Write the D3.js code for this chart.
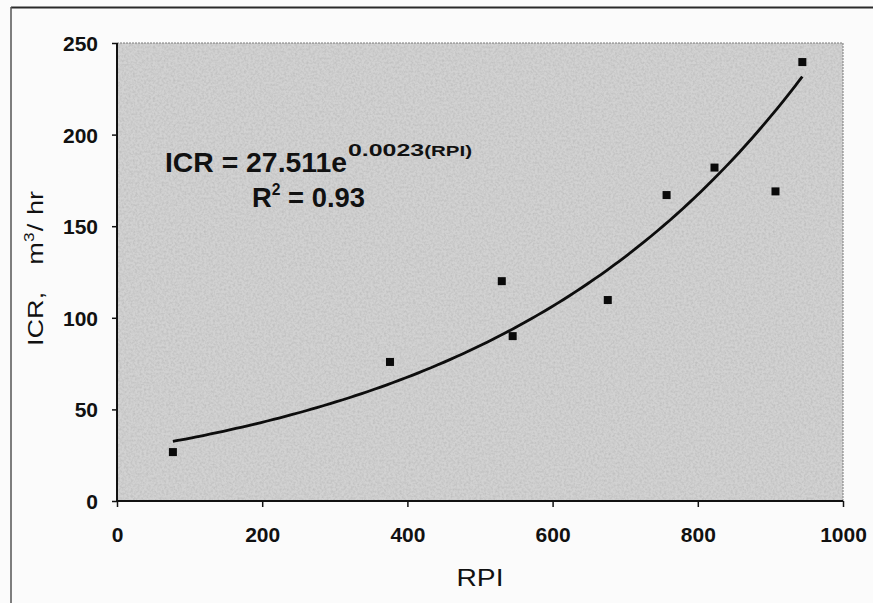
<!DOCTYPE html>
<html>
<head>
<meta charset="utf-8">
<script src="https://cdn.jsdelivr.net/npm/d3@7/dist/d3.min.js"></script>
<style>
  html, body { margin: 0; padding: 0; background: #fbfbfb; }
  svg { display: block; }
  text { font-family: "Liberation Sans", Arial, sans-serif; fill: #111; }
</style>
</head>
<body>
<svg id="chart" width="873" height="603"></svg>
<script>
// ---- data ----
const rpi = [77, 376, 530, 545, 676, 757, 823, 907, 944];
const icr = [26.7, 75.9, 120, 90, 109.7, 167, 182, 169, 239.6];
const xTicks = [0, 200, 400, 600, 800, 1000];
const yTicks = [0, 50, 100, 150, 200, 250];
const xTitle = "RPI";
const equationMain = "ICR = 27.511e";
const equationExp = "0.0023";
const equationExpVar = "(RPI)";
const r2Label = "R";
const r2Value = " = 0.93";

// ---- layout ----
const W = 873, H = 603;
const plot = { left: 117, right: 843, top: 43, bottom: 501 };

const svg = d3.select("#chart");

// texture filter for the scanned grey plot area
const defs = svg.append("defs");
const f = defs.append("filter").attr("id", "grain").attr("x", 0).attr("y", 0).attr("width", 1).attr("height", 1);
f.append("feTurbulence").attr("type", "fractalNoise").attr("baseFrequency", 0.45).attr("numOctaves", 2).attr("seed", 3).attr("result", "n");
f.append("feColorMatrix").attr("in", "n").attr("type", "matrix")
  .attr("values", "0 0 0 0 0.5  0 0 0 0 0.5  0 0 0 0 0.5  0 0 0 -1.6 1.05").attr("result", "dark");
f.append("feComposite").attr("in", "dark").attr("in2", "SourceGraphic").attr("operator", "atop");

// outer frame (extends beyond the visible window on right & bottom)
svg.append("line").attr("x1", 11).attr("x2", W + 5).attr("y1", 7.5).attr("y2", 7.5)
  .attr("stroke", "#2a2a2a").attr("stroke-width", 2.2);
svg.append("line").attr("x1", 11).attr("x2", 11).attr("y1", 7).attr("y2", H + 5)
  .attr("stroke", "#555").attr("stroke-width", 1.5);

const x = d3.scaleLinear().domain([0, 1000]).range([plot.left, plot.right]);
const y = d3.scaleLinear().domain([0, 250]).range([plot.bottom, plot.top]);

// plot background
svg.append("rect")
  .attr("x", plot.left).attr("y", plot.top)
  .attr("width", plot.right - plot.left).attr("height", plot.bottom - plot.top)
  .attr("fill", "#d2d2d2").attr("filter", "url(#grain)");
svg.append("rect")
  .attr("x", plot.left).attr("y", plot.top)
  .attr("width", plot.right - plot.left).attr("height", plot.bottom - plot.top)
  .attr("fill", "none")
  .attr("stroke", "#7a7a7a").attr("stroke-width", 1).attr("stroke-dasharray", "2,1");

// axes
const xAxis = d3.axisBottom(x).tickValues(xTicks).tickSize(6).tickPadding(20).tickFormat(d3.format("d"));
const yAxis = d3.axisLeft(y).tickValues(yTicks).tickSize(5).tickPadding(14).tickFormat(d3.format("d"));

const gx = svg.append("g").attr("transform", `translate(0,${plot.bottom})`).call(xAxis);
const gy = svg.append("g").attr("transform", `translate(${plot.left},0)`).call(yAxis);

[gx, gy].forEach(g => {
  g.attr("font-size", null).attr("font-family", null);
  g.select(".domain").attr("stroke", "#111").attr("stroke-width", 2);
  g.selectAll(".tick line").attr("stroke", "#111").attr("stroke-width", 1.5);
  g.selectAll(".tick text")
    .attr("fill", "#111")
    .style("font-family", '"Liberation Sans", Arial, sans-serif')
    .style("font-size", "21px").style("font-weight", "bold");
});
gy.select(".domain").attr("d", `M0,${plot.bottom}V${plot.top}`);
gx.select(".domain").attr("d", `M${plot.left},0H${plot.right}`);
gy.selectAll(".tick text").attr("dy", "0.36em");

// axis titles
svg.append("text")
  .attr("x", (plot.left + plot.right) / 2).attr("y", 586)
  .attr("text-anchor", "middle")
  .style("font-size", "24px")
  .attr("textLength", 47).attr("lengthAdjust", "spacingAndGlyphs")
  .text(xTitle);

const yt = svg.append("text")
  .attr("transform", "translate(43,346) rotate(-90)")
  .attr("text-anchor", "start")
  .style("font-size", "22px")
  .attr("textLength", 155).attr("lengthAdjust", "spacingAndGlyphs");
yt.append("tspan").text("ICR,");
yt.append("tspan").attr("dx", 22).text("m");
yt.append("tspan").attr("dy", -9).style("font-size", "14px").text("3");
yt.append("tspan").attr("dy", 9).attr("dx", 1).text("/");
yt.append("tspan").attr("dx", 7).text("hr");

// exponential trendline: least squares fit of ln(icr) vs rpi
const pts = rpi.map((r, i) => ({ r, v: icr[i] }));
const mx = d3.mean(pts, d => d.r);
const my = d3.mean(pts, d => Math.log(d.v));
const b = d3.sum(pts, d => (d.r - mx) * (Math.log(d.v) - my)) / d3.sum(pts, d => (d.r - mx) ** 2);
const a = Math.exp(my - b * mx);
const [rMin, rMax] = d3.extent(rpi);
const curve = d3.range(0, 101).map(i => rMin + (rMax - rMin) * i / 100).map(r => ({ r, v: a * Math.exp(b * r) }));

svg.append("path")
  .datum(curve)
  .attr("fill", "none").attr("stroke", "#0d0d0d").attr("stroke-width", 2.8)
  .attr("d", d3.line().x(d => x(d.r)).y(d => y(d.v)).curve(d3.curveBasis));

// markers
const ms = 8;
svg.append("g").selectAll("rect").data(pts).join("rect")
  .attr("x", d => x(d.r) - ms / 2).attr("y", d => y(d.v) - ms / 2)
  .attr("width", ms).attr("height", ms).attr("fill", "#0a0a0a");

// equation annotation
svg.append("text")
  .attr("x", 165).attr("y", 172)
  .style("font-size", "28px").style("font-weight", "bold")
  .attr("textLength", 182).attr("lengthAdjust", "spacingAndGlyphs")
  .text(equationMain);
const ex = svg.append("text")
  .attr("x", 348).attr("y", 156)
  .style("font-weight", "bold")
  .attr("textLength", 124).attr("lengthAdjust", "spacingAndGlyphs");
ex.append("tspan").style("font-size", "17px").text(equationExp);
ex.append("tspan").style("font-size", "14px").text(equationExpVar);

const r2 = svg.append("text")
  .attr("x", 252).attr("y", 207)
  .style("font-size", "28px").style("font-weight", "bold")
  .attr("textLength", 113).attr("lengthAdjust", "spacingAndGlyphs");
r2.append("tspan").text(r2Label);
r2.append("tspan").attr("dy", -12).style("font-size", "16px").text("2");
r2.append("tspan").attr("dy", 12).text(r2Value);
</script>
</body>
</html>
